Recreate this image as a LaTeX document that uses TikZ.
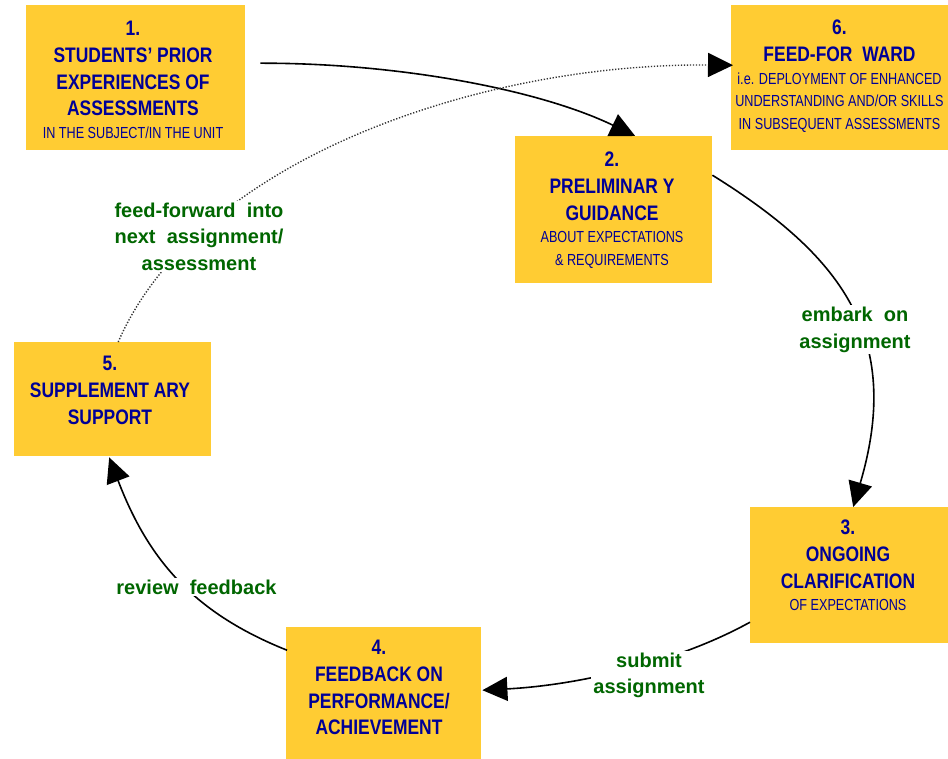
\documentclass[tikz,border=0pt]{standalone}
\usepackage{fontspec}
\setmainfont{Liberation Sans}
\newfontfamily\boxfont{Liberation Sans}[FakeStretch=0.83]
\newfontfamily\boxsmallfont{Liberation Sans}[FakeStretch=0.79]
\usetikzlibrary{arrows.meta,calc}
\definecolor{boxyellow}{RGB}{255,204,51}
\definecolor{boxblue}{RGB}{0,0,150}
\definecolor{lblgreen}{RGB}{0,102,0}
\newcommand\smalltxt[1]{{\boxsmallfont\mdseries\fontsize{16}{26.7}\selectfont #1}}
\begin{document}
\begin{tikzpicture}[x=1pt,y=-1pt,
  box/.style={fill=boxyellow,draw=none,inner sep=0pt,anchor=north west},
  boxtext/.style={anchor=north,inner sep=0pt,align=center,text=boxblue,
    font=\boxfont\bfseries\fontsize{21}{26.7}\selectfont},
  lbl/.style={anchor=north,fill=white,inner sep=2pt,align=center,text=lblgreen,
    font=\bfseries\fontsize{20}{26.5}\selectfont},
  conn/.style={line width=1.6pt,-{Triangle[length=25pt,width=24pt]}},
  dotconn/.style={line width=1.4pt,draw=black!80,dash pattern=on 1.3pt off 1.7pt,
    -{Triangle[length=25pt,width=24pt,color=black]}}]
\useasboundingbox (0,0) rectangle (948,759);
% boxes
\node[box,minimum width=219pt,minimum height=145pt] (b1) at (26,5) {};
\node[box,minimum width=217pt,minimum height=145pt] (b6) at (731,5) {};
\node[box,minimum width=197pt,minimum height=147pt] (b2) at (515,136) {};
\node[box,minimum width=198pt,minimum height=136pt] (b3) at (750,507) {};
\node[box,minimum width=195pt,minimum height=132pt] (b4) at (286,627) {};
\node[box,minimum width=197pt,minimum height=114pt] (b5) at (14,342) {};
% box texts
\node[boxtext] (t1) at (133,21) {1.\\STUDENTS’ PRIOR\\EXPERIENCES OF\\ASSESSMENTS\\[-4.2pt]\smalltxt{IN THE SUBJECT/IN THE UNIT}};
\node[boxtext] (t6) at (839.5,20) {6.\\FEED-FOR~~WARD\\[-4.2pt]\smalltxt{i.e. DEPLOYMENT OF ENHANCED}\\[-4.2pt]\smalltxt{UNDERSTANDING AND/OR SKILLS}\\[-4.2pt]\smalltxt{IN SUBSEQUENT ASSESSMENTS}};
\node[boxtext] (t2) at (612,152) {2.\\PRELIMINAR Y\\GUIDANCE\\[-4.2pt]\smalltxt{ABOUT EXPECTATIONS}\\[-4.2pt]\smalltxt{\& REQUIREMENTS}};
\node[boxtext] (t3) at (848,520) {3.\\ONGOING\\CLARIFICATION\\[-4.2pt]\smalltxt{OF EXPECTATIONS}};
\node[boxtext] (t4) at (379,640) {4.\\FEEDBACK ON\\PERFORMANCE/\\ACHIEVEMENT};
\node[boxtext] (t5) at (110,356) {5.\\SUPPLEMENT ARY\\SUPPORT};
% connectors
\draw[conn] ($(b1.east)+(15,-14.5)$) .. controls (400,63) and (540,90) .. ($(b2.north)+(21.5,0)$);
\draw[conn] ($(b2.east)+(0,-34.5)$) .. controls (839.5,254.5) and (904,335) .. ($(b3.north)+(4,0)$);
\draw[conn] ($(b3.west)+(0,47)$) .. controls (680,661) and (582,685) .. ($(b4.east)+(1,-3)$);
\draw[conn] ($(b4.west)+(1,-43)$) .. controls (194,613) and (148.6,560.3) .. ($(b5.south)+(-3.5,1)$);
\draw[dotconn] ($(b5.north)+(5.5,0)$) .. controls (198,158) and (483,63) .. ($(b6.west)+(2,-12.5)$);
% labels
\node[lbl] (l1) at (199,200.4) {feed-forward~~into\\next~~assignment/\\assessment};
\node[lbl] (l2) at (855,305) {embark~~on\\assignment};
\node[lbl] (l3) at (649,650.4) {submit\\assignment};
\node[lbl] (l4) at (196.5,577.4) {review~~feedback};
\end{tikzpicture}
\end{document}
